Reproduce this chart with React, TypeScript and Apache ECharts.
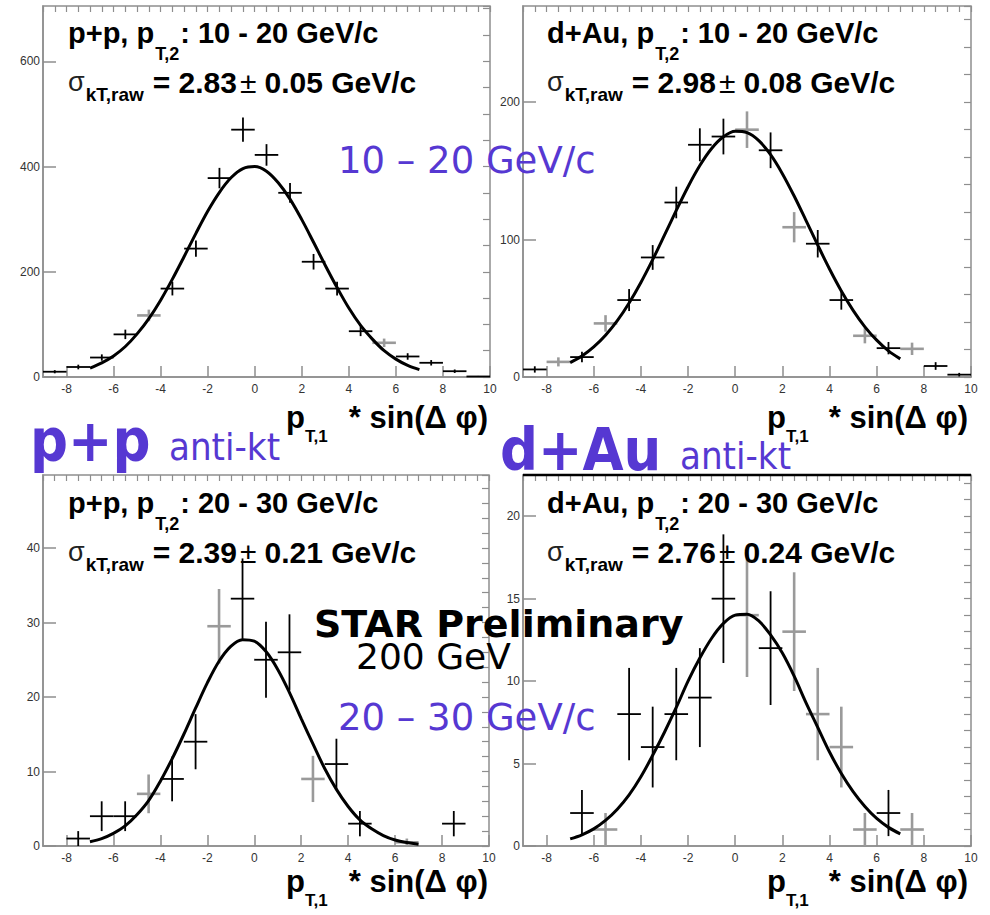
import React, { useEffect, useRef } from "react";
import * as echarts from "echarts";

// ---------- data ----------
const binCenters = [-8.5, -7.5, -6.5, -5.5, -4.5, -3.5, -2.5, -1.5, -0.5, 0.5, 1.5, 2.5, 3.5, 4.5, 5.5, 6.5, 7.5, 8.5, 9.5];
const binWidth = 1;
const fitX = [-7, -6.5, -6, -5.5, -5, -4.5, -4, -3.5, -3, -2.5, -2, -1.5, -1, -0.5, 0, 0.5, 1, 1.5, 2, 2.5, 3, 3.5, 4, 4.5, 5, 5.5, 6, 6.5, 7];
const xTickLabels = [-8, -6, -4, -2, 0, 2, 4, 6, 8, 10];

// p+p, pT2 10-20
const ppLowCounts = [10, 19, 37, 81, 117, 168, 244, 378, 470, 422, 350, 219, 168, 87, 65, 39, 27, 11, 1];
const ppLowErrors = [3, 4.4, 6, 9, 11, 13, 15.6, 19.4, 23, 20.5, 18.7, 14.8, 13, 9.3, 8, 6.2, 5.2, 3.3, 1];
const ppLowGrey = [0, 0, 0, 0, 1, 0, 0, 0, 0, 0, 0, 0, 0, 0, 1, 0, 0, 0, 0];
const ppLowFit = [17, 27, 40, 58, 82, 111, 146, 186, 229, 273, 315, 351, 379, 396, 400, 391, 369, 338, 299, 256, 212, 170, 131, 98, 72, 50, 34, 22, 14];
const ppLowYTicks = [0, 200, 400, 600];

// d+Au, pT2 10-20
const dAuLowCounts = [5.5, 11, 14.5, 39, 56, 87, 127, 169, 175, 180, 165, 109, 97, 56, 30, 21, 20.5, 8, 1.7];
const dAuLowErrors = [2.3, 3.3, 3.8, 6, 8, 9, 11.5, 12, 13, 13.3, 13, 11, 10, 7, 5.5, 4.5, 4.5, 2.8, 1.3];
const dAuLowGrey = [0, 1, 0, 1, 0, 0, 0, 0, 0, 1, 0, 1, 0, 0, 1, 0, 1, 0, 0];
const dAuLowFit = [10.5, 15.3, 21.9, 30.4, 41.0, 53.9, 68.8, 85.4, 103.2, 121.2, 138.5, 153.9, 166.3, 174.8, 178.8, 177.8, 172.0, 161.8, 148.0, 131.7, 114.0, 96.0, 78.6, 62.6, 48.5, 36.5, 26.8, 19.0, 13.2];
const dAuLowYTicks = [0, 100, 200];

// p+p, pT2 20-30
const ppHighCounts = [null, 1, 4, 4, 7, 9, 14, 29.5, 33.2, 25, 26, 9, 11, 3, null, 0.5, null, 3, null];
const ppHighErrors = [null, 1, 2, 2, 2.6, 3, 3.7, 5, 5.4, 5.1, 5.1, 3.1, 3.4, 1.7, null, 0.5, null, 1.7, null];
const ppHighGrey = [0, 0, 0, 0, 1, 0, 0, 1, 0, 0, 0, 1, 0, 0, 0, 1, 0, 0, 0];
const ppHighFit = [0.58, 1.0, 1.7, 2.7, 4.2, 6.1, 8.7, 11.7, 15.0, 18.5, 21.9, 24.8, 26.8, 27.7, 27.5, 26.1, 23.7, 20.6, 17.1, 13.7, 10.4, 7.6, 5.3, 3.5, 2.3, 1.4, 0.8, 0.46, 0.25];
const ppHighYTicks = [0, 10, 20, 30, 40];

// d+Au, pT2 20-30
const dAuHighCounts = [null, null, 2, 1, 8, 6, 8, 9, 15, 14, 12, 13, 8, 6, 1, 2, 1, null, null];
const dAuHighErrors = [null, null, 1.4, 1, 2.8, 2.45, 2.8, 3, 3.9, 3.75, 3.45, 3.6, 2.8, 2.45, 1, 1.4, 1, null, null];
const dAuHighGrey = [0, 0, 0, 1, 0, 0, 0, 0, 0, 1, 0, 1, 1, 1, 1, 0, 1, 0, 0];
const dAuHighFit = [0.43, 0.68, 1.04, 1.55, 2.23, 3.1, 4.2, 5.5, 6.9, 8.4, 10.0, 11.4, 12.6, 13.5, 14.0, 14.06, 13.65, 12.8, 11.7, 10.3, 8.7, 7.2, 5.7, 4.4, 3.3, 2.4, 1.67, 1.13, 0.74];
const dAuHighYTicks = [0, 5, 10, 15, 20];

const yMaxes = [705, 270, 49.8, 22.5];
const yMinorSteps = [50, 20, 2, 1];

const systems = ["p+p", "d+Au", "p+p", "d+Au"];
const ptRanges = ["10 - 20", "10 - 20", "20 - 30", "20 - 30"];
const sigmaValues = ["2.83", "2.98", "2.39", "2.76"];
const sigmaErrors = ["0.05", "0.08", "0.21", "0.24"];

// ---------- layout ----------
const grids = [
  { left: 43, top: 6, width: 447, height: 371 },
  { left: 523, top: 6, width: 448, height: 371 },
  { left: 43, top: 475, width: 446, height: 371 },
  { left: 523, top: 475, width: 448, height: 371 },
];
const AX = "#8e8e8e";
const PURPLE = "#5638d2";
const SANS = "Liberation Sans";
const DJ = "DejaVu Sans";
const DJC = "DejaVu Sans Condensed, DejaVu Sans";

const panelCounts = [ppLowCounts, dAuLowCounts, ppHighCounts, dAuHighCounts];
const panelErrors = [ppLowErrors, dAuLowErrors, ppHighErrors, dAuHighErrors];
const panelGrey = [ppLowGrey, dAuLowGrey, ppHighGrey, dAuHighGrey];
const panelFits = [ppLowFit, dAuLowFit, ppHighFit, dAuHighFit];
const panelYTicks = [ppLowYTicks, dAuLowYTicks, ppHighYTicks, dAuHighYTicks];

const makeCross = (color: string, width: number) => (params: any, api: any) => {
  const x = api.value(0);
  const y = api.value(1);
  const e = api.value(2);
  const l = api.coord([x - binWidth / 2, y]);
  const r = api.coord([x + binWidth / 2, y]);
  const t = api.coord([x, y + e]);
  const b = api.coord([x, Math.max(0, y - e)]);
  const style = { stroke: color, lineWidth: width, fill: null };
  return {
    type: "group",
    children: [
      { type: "line", shape: { x1: l[0], y1: l[1], x2: r[0], y2: r[1] }, style },
      { type: "line", shape: { x1: t[0], y1: t[1], x2: b[0], y2: b[1] }, style },
    ],
  };
};

const measure = (text: string, size: number, weight: string, family: string) => {
  try {
    const t = new (echarts.graphic as any).Text({ style: { text, fontSize: size, fontWeight: weight, fontFamily: family } });
    return t.getBoundingRect().width;
  } catch (e) {
    return text.length * size * 0.55;
  }
};

const txt = (text: string, x: number, y: number, size: number, opts: any = {}) => ({
  type: "text",
  x,
  y,
  z: 60,
  style: {
    text,
    fontSize: size,
    fontFamily: opts.family || SANS,
    fontWeight: opts.weight || "bold",
    fill: opts.color || "#000",
    align: opts.align || "left",
    textAlign: opts.align || "left",
    verticalAlign: "middle",
    textVerticalAlign: "middle",
  },
});

// a row of text pieces laid out left to right: [text, size, weight, dy, gapBefore, color?]
const row = (pieces: any[], x0: number, yc: number, out: any[]) => {
  let x = x0;
  pieces.forEach(([text, size, weight, dy, gap, color]) => {
    x += gap;
    out.push(txt(text, x, yc + dy, size, { weight, color }));
    x += measure(text, size, weight, SANS);
  });
};

function buildOption() {
  const xAxis: any[] = [];
  const yAxis: any[] = [];
  const series: any[] = [];
  const graphic: any[] = [];

  for (let i = 0; i < 4; i++) {
    xAxis.push({
      gridIndex: i, type: "value", min: -9, max: 10,
      axisLine: { show: true, onZero: false, lineStyle: { color: AX, width: 1.5 } },
      axisTick: { show: true, inside: true, length: 11, customValues: xTickLabels, lineStyle: { color: AX, width: 1.5 } },
      axisLabel: { show: true, customValues: xTickLabels, fontSize: 12, color: "#333", margin: 6, fontFamily: SANS },
      splitLine: { show: false },
    });
    xAxis.push({
      gridIndex: i, type: "value", min: -9, max: 10, interval: 0.5,
      axisLine: { show: false, onZero: false },
      axisTick: { show: true, inside: true, length: 6, lineStyle: { color: AX, width: 1.2 } },
      axisLabel: { show: false },
      splitLine: { show: false },
    });
    yAxis.push({
      gridIndex: i, type: "value", min: 0, max: yMaxes[i],
      axisLine: { show: true, onZero: false, lineStyle: { color: AX, width: 1.5 } },
      axisTick: { show: true, inside: true, length: 13, customValues: panelYTicks[i], lineStyle: { color: AX, width: 1.5 } },
      axisLabel: { show: true, customValues: panelYTicks[i], fontSize: 12, color: "#333", margin: 3, fontFamily: SANS },
      splitLine: { show: false },
    });
    yAxis.push({
      gridIndex: i, type: "value", min: 0, max: yMaxes[i], interval: yMinorSteps[i],
      axisLine: { show: false, onZero: false },
      axisTick: { show: true, inside: true, length: 7, lineStyle: { color: AX, width: 1.2 } },
      axisLabel: { show: false },
      splitLine: { show: false },
    });

    const greyPts: any[] = [];
    const blackPts: any[] = [];
    binCenters.forEach((c, j) => {
      const v = panelCounts[i][j];
      if (v === null || v === undefined) return;
      const p = [c, v, panelErrors[i][j]];
      if (panelGrey[i][j]) greyPts.push(p);
      else blackPts.push(p);
    });
    series.push({
      type: "custom", xAxisIndex: 2 * i, yAxisIndex: 2 * i, z: 3,
      renderItem: makeCross("#9a9a9a", 2.6), data: greyPts, encode: { x: 0, y: 1 }, silent: true,
    });
    series.push({
      type: "custom", xAxisIndex: 2 * i, yAxisIndex: 2 * i, z: 4,
      renderItem: makeCross("#000", 1.8), data: blackPts, encode: { x: 0, y: 1 }, silent: true,
    });
    series.push({
      type: "line", xAxisIndex: 2 * i, yAxisIndex: 2 * i, z: 5,
      data: fitX.map((x, j) => [x, panelFits[i][j]]),
      smooth: 0.35, showSymbol: false, symbol: "none", silent: true,
      lineStyle: { color: "#000", width: 3 },
    });
  }

  // panel texts
  const titleX = [68, 547, 68, 547];
  const dy = [0, 0, 470, 470];
  const pX = [286, 767, 286, 767];
  const rX = [488, 968, 488, 968];
  const xtBase = [428, 428, 892, 892];

  for (let i = 0; i < 4; i++) {
    row(
      [
        [`${systems[i]}, p`, 29, "bold", 0, 0],
        ["T,2", 18, "bold", 21, 1],
        [`: ${ptRanges[i]} GeV/c`, 29, "bold", 0, 1],
      ],
      titleX[i], 33 + dy[i], graphic
    );
    row(
      [
        ["σ", 27, "normal", 0, 0, "#222"],
        ["kT,raw", 19, "bold", 12, 1],
        [`= ${sigmaValues[i]}`, 30, "bold", 0, 9],
        ["±", 30, "normal", 0, 3],
        [`${sigmaErrors[i]} GeV/c`, 30, "bold", 0, 8],
      ],
      titleX[i], 82 + dy[i], graphic
    );
    // x axis title
    row(
      [
        ["p", 31, "bold", 0, 0],
        ["T,1", 17, "bold", 19, 0],
      ],
      pX[i], xtBase[i] - 11, graphic
    );
    graphic.push(txt("* sin(Δ φ)", rX[i], xtBase[i] - 11, 31, { align: "right" }));
  }

  // overlay annotations
  graphic.push(txt("10 – 20 GeV/c", 338, 160, 37, { family: DJ, weight: "normal", color: PURPLE }));
  graphic.push(txt("20 – 30 GeV/c", 338, 717, 37, { family: DJ, weight: "normal", color: PURPLE }));
  graphic.push(txt("STAR Preliminary", 314, 624, 38, { family: DJ, weight: "bold", color: "#000" }));
  graphic.push(txt("200 GeV", 356, 656, 36, { family: DJ, weight: "normal", color: "#000" }));
  graphic.push(txt("p+p", 30, 440, 59, { family: DJC, weight: "bold", color: PURPLE }));
  graphic.push(txt("anti-kt", 169, 447, 38, { family: DJC, weight: "normal", color: PURPLE }));
  graphic.push(txt("d+Au", 500, 449, 59, { family: DJC, weight: "bold", color: PURPLE }));
  graphic.push(txt("anti-kt", 680, 456, 38, { family: DJC, weight: "normal", color: PURPLE }));

  // heavy top border on last panel
  graphic.push({ type: "line", z: 61, shape: { x1: 523, y1: 475, x2: 971, y2: 475 }, style: { stroke: "#000", lineWidth: 2.5 } });

  return {
    animation: false,
    backgroundColor: "#fff",
    grid: grids.map((g) => ({ ...g, show: true, borderColor: AX, borderWidth: 1.5, backgroundColor: "transparent" })),
    xAxis,
    yAxis,
    series,
    graphic,
  };
}

export default function App() {
  const ref = useRef<HTMLDivElement>(null);
  useEffect(() => {
    if (!ref.current) return;
    const chart = echarts.init(ref.current, null, { renderer: "svg" });
    chart.setOption(buildOption() as any);
    return () => chart.dispose();
  }, []);
  return (
    <div
      ref={ref}
      style={{ position: "absolute", left: 0, top: 0, width: 990, height: 915, background: "#fff" }}
    />
  );
}
